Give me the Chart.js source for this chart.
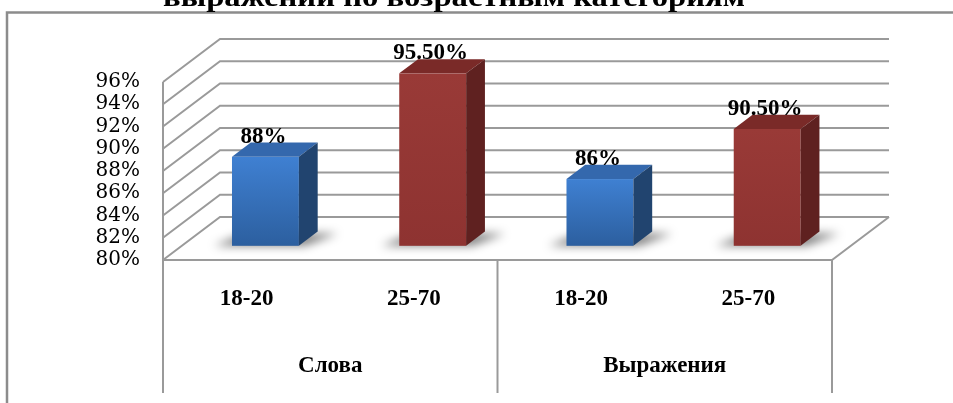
<!DOCTYPE html>
<html>
<head>
<meta charset="utf-8">
<script src="https://cdn.jsdelivr.net/npm/chart.js@4.4.1/dist/chart.umd.min.js"></script>
<style>
  html, body { margin: 0; padding: 0; background: #fff; overflow: hidden; }
  canvas { display: block; }
</style>
</head>
<body>
<canvas id="chart_ageGroups" width="953" height="403"></canvas>
<script>
// values per age group, grouped under "Слова" and "Выражения"
const titleText = 'выражений по возрастным категориям';
const groupLabels = ['Слова', 'Выражения'];
const ageLabels = ['18-20', '25-70', '18-20', '25-70'];
const percentValues = [88, 95.5, 86, 90.5];
const yMin = 80;
const yMax = 96;
const yStep = 2;

// 3d look: floor depth vector and where the boxes stand on it
const depthX = 57;
const depthY = -43;
const barFront = 0.33;
const barDepth = 0.33;
const lineGray = '#9a9a9a';

const faceColors = [
    { top: '#3468ad', frontTop: '#3f80d2', frontBottom: '#2c5f9f', side: '#21446f' },
    { top: '#7a2a28', frontTop: '#993a37', frontBottom: '#8e3331', side: '#5f2120' }
];

function formatPercent(v) {
    return Number.isInteger(v) ? v + '%' : v.toFixed(2) + '%';
}

const framePlugin = {
    id: 'frame3d',
    beforeDraw(chart) {
        const ctx = chart.ctx;
        ctx.save();
        // outer border
        ctx.strokeStyle = '#8c8c8c';
        ctx.lineWidth = 2.5;
        ctx.beginPath();
        ctx.moveTo(7, 403);
        ctx.lineTo(7, 12.5);
        ctx.lineTo(chart.width + 5, 12.5);
        ctx.stroke();

        // title, cut off by the top edge
        ctx.font = 'bold 28px "Liberation Serif"';
        ctx.fillStyle = '#000';
        ctx.textBaseline = 'alphabetic';
        const w = ctx.measureText(titleText).width;
        const sx = 582 / w;
        ctx.translate(163, 6);
        ctx.scale(sx, 1);
        ctx.fillText(titleText, 0, 0);
        ctx.restore();
    },
    beforeDatasetsDraw(chart) {
        const { ctx, chartArea: a, scales } = chart;
        const y = scales.y;
        const x2 = scales.x2;
        ctx.save();
        ctx.strokeStyle = lineGray;
        ctx.lineWidth = 2;
        ctx.lineCap = 'butt';

        // side wall diagonals + back wall grid lines
        y.ticks.forEach(t => {
            const py = y.getPixelForValue(t.value);
            ctx.beginPath();
            ctx.moveTo(a.left, py);
            ctx.lineTo(a.left + depthX, py + depthY);
            ctx.lineTo(a.right + depthX, py + depthY);
            ctx.stroke();
        });

        // front edge of side wall and floor
        ctx.beginPath();
        ctx.moveTo(a.left, a.top);
        ctx.lineTo(a.left, a.bottom);
        ctx.lineTo(a.right, a.bottom);
        ctx.lineTo(a.right + depthX, a.bottom + depthY);
        ctx.stroke();

        // group dividers under the floor
        const mid = (x2.getPixelForValue(0) + x2.getPixelForValue(1)) / 2;
        [x2.left, mid, x2.right].forEach(px => {
            ctx.beginPath();
            ctx.moveTo(px, a.bottom);
            ctx.lineTo(px, x2.bottom - 10);
            ctx.stroke();
        });
        ctx.restore();
    },
    afterDatasetsDraw(chart) {
        const ctx = chart.ctx;
        const meta = chart.getDatasetMeta(0);
        const fx = depthX * barFront, fy = depthY * barFront;
        const sx = depthX * barDepth, sy = depthY * barDepth;

        meta.data.forEach((bar, i) => {
            const c = faceColors[i % 2];
            const hw = bar.width / 2;
            const x0 = bar.x - hw + fx;
            const x1 = bar.x + hw + fx;
            const yt = bar.y + fy;
            const yb = bar.base + fy;

            ctx.save();
            // soft shadow on the floor
            ctx.filter = 'blur(5px)';
            ctx.fillStyle = 'rgba(0,0,0,0.5)';
            ctx.beginPath();
            ctx.moveTo(x0 - 18, yb);
            ctx.lineTo(x1 + 6, yb);
            ctx.lineTo(x1 + sx + 20, yb + sy + 2);
            ctx.lineTo(x0 + sx - 6, yb + sy + 2);
            ctx.closePath();
            ctx.fill();
            ctx.filter = 'none';

            // front face
            const g = ctx.createLinearGradient(0, yt, 0, yb);
            g.addColorStop(0, c.frontTop);
            g.addColorStop(1, c.frontBottom);
            ctx.fillStyle = g;
            ctx.fillRect(x0, yt, x1 - x0, yb - yt);

            // top face
            ctx.fillStyle = c.top;
            ctx.beginPath();
            ctx.moveTo(x0, yt);
            ctx.lineTo(x1, yt);
            ctx.lineTo(x1 + sx, yt + sy);
            ctx.lineTo(x0 + sx, yt + sy);
            ctx.closePath();
            ctx.fill();

            // right side face
            ctx.fillStyle = c.side;
            ctx.beginPath();
            ctx.moveTo(x1, yt);
            ctx.lineTo(x1 + sx, yt + sy);
            ctx.lineTo(x1 + sx, yb + sy);
            ctx.lineTo(x1, yb);
            ctx.closePath();
            ctx.fill();

            // value label
            ctx.font = 'bold 23px "Liberation Serif"';
            ctx.fillStyle = '#000';
            ctx.textAlign = 'center';
            ctx.textBaseline = 'alphabetic';
            ctx.fillText(formatPercent(percentValues[i]), (x0 + x1) / 2 - 2, yt + sy);
            ctx.restore();
        });
    }
};

const data = {
    labels: ageLabels,
    datasets: [{
        label: 'Проценты',
        data: percentValues,
        base: yMin,
        backgroundColor: 'rgba(0,0,0,0)',
        borderWidth: 0,
        barPercentage: 0.4,
        categoryPercentage: 1.0
    }]
};

const config = {
    type: 'bar',
    data: data,
    options: {
        responsive: false,
        animation: false,
        layout: { padding: { top: 82, right: 121, bottom: 0, left: 0 } },
        plugins: {
            legend: { display: false },
            tooltip: { enabled: false },
            title: { display: false }
        },
        scales: {
            y: {
                min: yMin,
                max: yMax,
                ticks: {
                    stepSize: yStep,
                    autoSkip: false,
                    padding: 23,
                    color: '#000',
                    font: { family: 'DejaVu Serif', size: 20, lineHeight: 1.0 },
                    callback: v => v + '%'
                },
                grid: { display: false, drawTicks: false },
                border: { display: false },
                afterFit: s => { s.width = 163; }
            },
            x: {
                weight: 0,
                ticks: {
                    padding: 25,
                    color: '#000',
                    font: { family: 'Liberation Serif', size: 23, weight: 'bold' }
                },
                grid: { display: false, drawTicks: false },
                border: { display: false },
                afterFit: s => { s.height = 73; }
            },
            x2: {
                type: 'category',
                position: 'bottom',
                weight: 1,
                labels: groupLabels,
                offset: true,
                ticks: {
                    padding: 19,
                    color: '#000',
                    font: { family: 'Liberation Serif', size: 23, weight: 'bold' }
                },
                grid: { display: false, drawTicks: false },
                border: { display: false },
                afterFit: s => { s.height = 70; }
            }
        }
    },
    plugins: [framePlugin]
};

const myChart = new Chart(document.getElementById('chart_ageGroups'), config);
</script>
</body>
</html>
